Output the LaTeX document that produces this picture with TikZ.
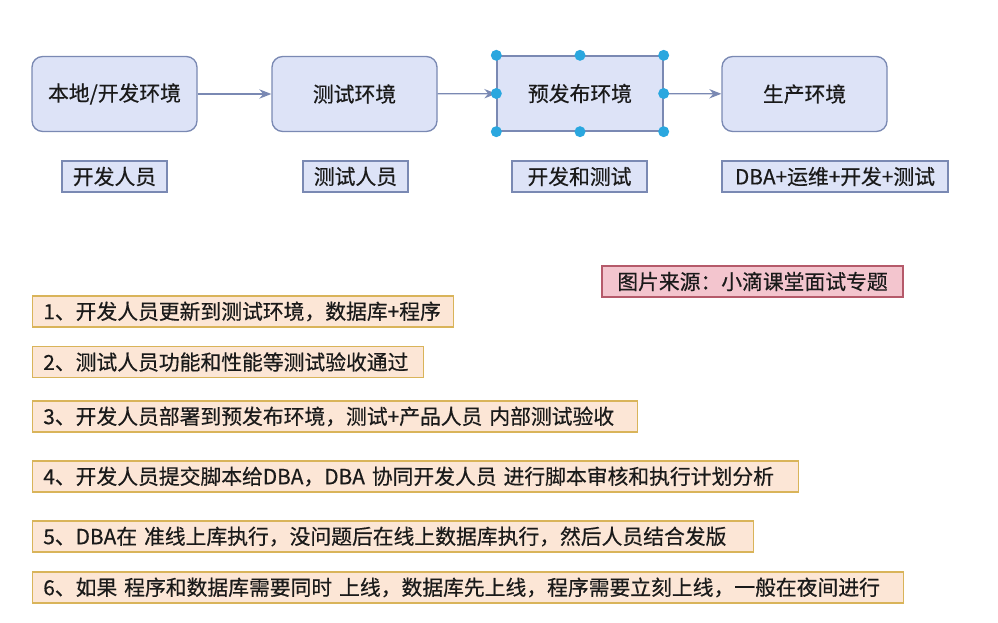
\documentclass[tikz,border=0pt]{standalone}
\usepackage{fontspec}
\setmainfont{Noto Sans CJK SC}[FakeBold=0.5]
\usetikzlibrary{arrows.meta}
\definecolor{envfill}{HTML}{DDE3F7}
\definecolor{envdraw}{HTML}{7A89B3}
\definecolor{stepfill}{HTML}{FCE6D6}
\definecolor{stepdraw}{HTML}{D9B45A}
\definecolor{pinkfill}{HTML}{F3C5CE}
\definecolor{pinkdraw}{HTML}{B55A6A}
\definecolor{handle}{HTML}{2AA7DF}
\definecolor{txt}{HTML}{1A1A1A}
\tikzset{
  every node/.style={font=\fontsize{15.6}{18}\selectfont, text=txt},
  envbox/.style={draw=envdraw, fill=envfill, line width=1pt, rounded corners=8pt, minimum width=165*0.75pt, minimum height=75*0.75pt, inner sep=0pt},
  selbox/.style={draw=envdraw, fill=envfill, line width=1pt, minimum width=166*0.75pt, minimum height=75*0.75pt, inner sep=0pt},
  rolebox/.style={draw=envdraw, fill=envfill, line width=0.8pt, minimum height=31*0.75pt, inner sep=0pt},
  stepbox/.style={draw=stepdraw, fill=stepfill, line width=1pt, anchor=west, minimum height=31*0.75pt, inner ysep=0pt, inner xsep=8pt, align=left},
  srcbox/.style={draw=pinkdraw, fill=pinkfill, line width=0.8pt, minimum height=31*0.75pt, inner sep=0pt},
  flow/.style={draw=envdraw, line width=1pt, -{Stealth[length=9pt,width=7pt]}},
  hdl/.style={fill=handle}
}
\begin{document}
\begin{tikzpicture}[x=0.75pt,y=-0.75pt]
\fill[white] (0,0) rectangle (998,623);
\useasboundingbox (0,0) rectangle (998,623);

\node[envbox] (b1) at (114.5,94) {本地/开发环境};
\node[envbox] (b2) at (354.5,94) {测试环境};
\node[selbox] (b3) at (580,93.5) {预发布环境};
\node[envbox] (b4) at (804.5,94) {生产环境};

\draw[flow] (b1) -- (b2);
\draw[flow] (b2) -- (b3);
\draw[flow] (b3) -- (b4);

\foreach \a in {north west,north,north east,west,east,south west,south,south east}
  \fill[hdl] (b3.\a) circle (5.5);

\node[rolebox, minimum width=105*0.75pt] (r1) at (114.5,176.5) {开发人员};
\node[rolebox, minimum width=105*0.75pt] (r2) at (355.5,176.5) {测试人员};
\node[rolebox, minimum width=135*0.75pt] (r3) at (579.5,176.5) {开发和测试};
\node[rolebox, minimum width=226*0.75pt] (r4) at (835,176.5) {DBA+运维+开发+测试};

\node[srcbox, minimum width=301*0.75pt] (src) at (752.5,281.5) {图片来源：小滴课堂面试专题};

\node[stepbox, text width=421*0.75pt-16pt] (s1) at (32,311.5) {1、开发人员更新到测试环境，数据库+程序};
\node[stepbox, text width=391*0.75pt-16pt] (s2) at (32,362) {2、测试人员功能和性能等测试验收通过};
\node[stepbox, text width=605*0.75pt-16pt] (s3) at (32,416.5) {3、开发人员部署到预发布环境，测试+产品人员 内部测试验收};
\node[stepbox, text width=766*0.75pt-16pt] (s4) at (32,476.5) {4、开发人员提交脚本给DBA，DBA 协同开发人员 进行脚本审核和执行计划分析};
\node[stepbox, text width=721*0.75pt-16pt] (s5) at (32,536.5) {5、DBA在 准线上库执行，没问题后在线上数据库执行，然后人员结合发版};
\node[stepbox, text width=871*0.75pt-16pt] (s6) at (32,587.5) {6、如果 程序和数据库需要同时 上线，数据库先上线，程序需要立刻上线，一般在夜间进行};
\end{tikzpicture}
\end{document}
